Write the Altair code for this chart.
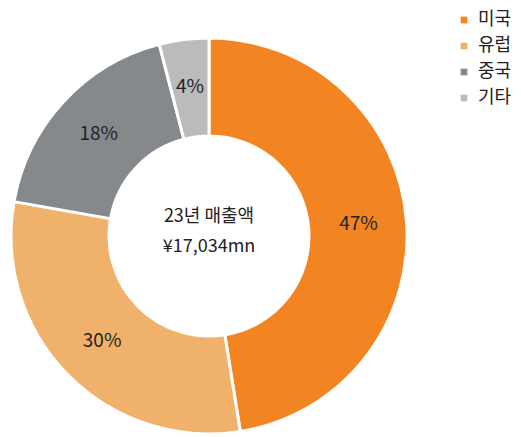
import altair as alt
import pandas as pd

regions = ["미국", "유럽", "중국", "기타"]
shares = [47, 30, 18, 4]
labels = ["47%", "30%", "18%", "4%"]
colors = ["#F28522", "#F0B26B", "#86898C", "#BBBBBC"]
center_lines = ["23년 매출액", "¥17,034mn"]

df = pd.DataFrame({"region": regions, "share": shares, "label": labels, "idx": list(range(len(regions)))})

FONT = "Noto Sans CJK KR"
CX, CY = 201, 228

base = alt.Chart(df).encode(
    theta=alt.Theta("share:Q", stack=True),
    order=alt.Order("idx:Q"),
    x=alt.value(CX),
    y=alt.value(CY),
)

arcs = base.mark_arc(outerRadius=198, innerRadius=100, stroke="white", strokeWidth=3).encode(
    color=alt.Color(
        "region:N",
        scale=alt.Scale(domain=regions, range=colors),
        sort=regions,
        legend=alt.Legend(
            title=None, orient="none", legendX=447, legendY=3,
            symbolType="square", symbolSize=45, symbolStrokeWidth=0,
            labelFont=FONT, labelFontSize=18, labelColor="#222222",
            rowPadding=8, labelOffset=5, labelLimit=100,
        ),
    )
)

text = base.mark_text(radius=150, font=FONT, fontSize=19, color="#222222").encode(
    text="label:N"
)

center_top = alt.Chart(pd.DataFrame({"line": [center_lines[0]]})).mark_text(
    font=FONT, fontSize=18, color="#222222"
).encode(x=alt.value(CX), y=alt.value(CY - 19), text="line:N")

center_bottom = alt.Chart(pd.DataFrame({"line": [center_lines[1]]})).mark_text(
    font=FONT, fontSize=18, color="#222222"
).encode(x=alt.value(CX), y=alt.value(CY + 11), text="line:N")

chart = alt.layer(arcs, text, center_top, center_bottom).properties(
    width=505, height=429, padding=0, autosize=alt.AutoSizeParams(type="none")
).configure_view(stroke=None)

chart.save("out.html", embed_options={"renderer": "svg", "actions": False})
